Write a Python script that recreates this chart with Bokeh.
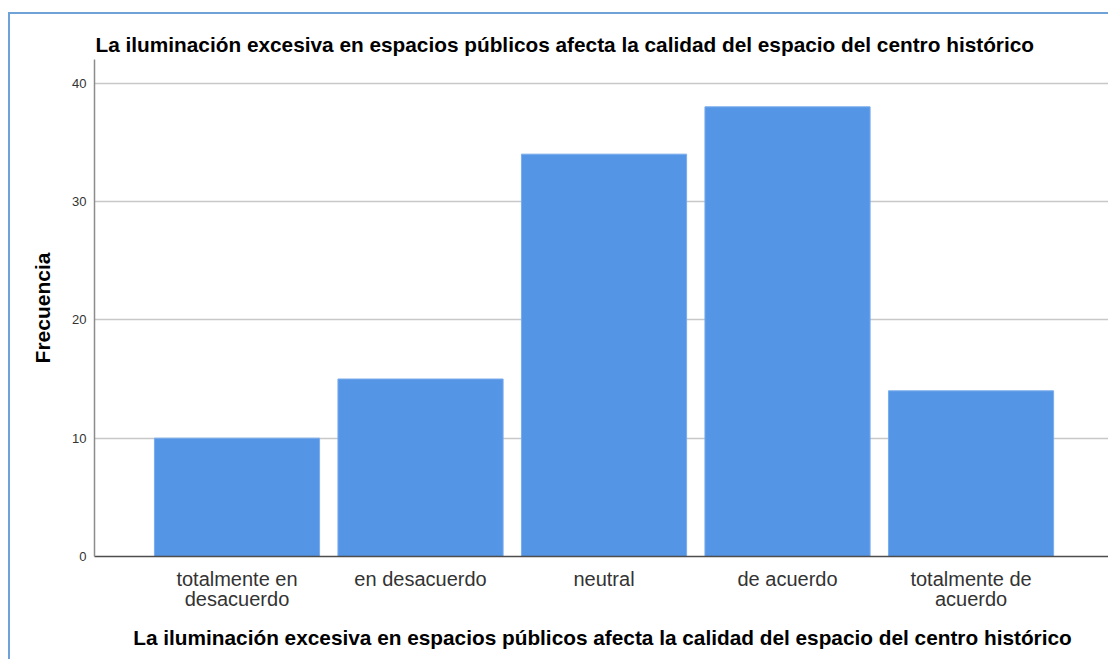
from bokeh.plotting import figure
from bokeh.models import FixedTicker, ColumnDataSource
from bokeh.embed import file_html
from bokeh.resources import INLINE

categories = ["totalmente en\ndesacuerdo", "en desacuerdo", "neutral", "de acuerdo", "totalmente de\nacuerdo"]
frecuencia = [10, 15, 34, 38, 14]
y_ticks = [0, 10, 20, 30, 40]
title_text = "La iluminación excesiva en espacios públicos afecta la calidad del espacio del centro histórico"

positions = list(range(1, len(categories) + 1))
source = ColumnDataSource(data=dict(x=positions, top=frecuencia, cat=categories))

FONT = "Liberation Sans"

p = figure(width=1100, height=647, x_range=(0.2234, 5.760), y_range=(0, 42),
           output_backend="svg", toolbar_location=None,
           min_border_left=84, min_border_right=0, min_border_top=45, min_border_bottom=105)

p.styles = {"border-top": "2px solid #6fa3d8", "border-left": "2px solid #6fa3d8",
            "margin-top": "12px", "margin-left": "8px"}

p.title.text = title_text
p.title.text_font = FONT
p.title.text_font_size = "20.8px"
p.title.text_font_style = "bold"
p.title.text_color = "#000000"
p.title.align = "left"
p.title.offset = 1
p.title.standoff = 8

p.vbar(x="x", top="top", width=0.9, source=source,
       fill_color="#5595e5", line_color="#7aaced", line_width=1)

p.outline_line_color = None
p.xgrid.grid_line_color = None
p.ygrid.grid_line_color = "#c8c8c8"
p.ygrid.grid_line_width = 1.5
p.ygrid.ticker = FixedTicker(ticks=y_ticks)

p.yaxis.ticker = FixedTicker(ticks=y_ticks)
p.yaxis.axis_line_color = "#8c8c8c"
p.yaxis.axis_line_width = 1.5
p.yaxis.major_tick_line_color = None
p.yaxis.major_tick_out = 0
p.yaxis.major_tick_in = 0
p.yaxis.minor_tick_line_color = None
p.yaxis.major_label_text_font = FONT
p.yaxis.major_label_text_font_size = "13px"
p.yaxis.major_label_text_color = "#333333"
p.yaxis.major_label_standoff = 8
p.yaxis.axis_label = "Frecuencia"
p.yaxis.axis_label_text_font = FONT
p.yaxis.axis_label_text_font_size = "21px"
p.yaxis.axis_label_text_font_style = "bold"
p.yaxis.axis_label_text_color = "#000000"
p.yaxis.axis_label_standoff = 15

p.xaxis.ticker = FixedTicker(ticks=positions)
p.xaxis.major_label_overrides = {pos: cat for pos, cat in zip(positions, categories)}
p.xaxis.axis_line_color = "#4d4d4d"
p.xaxis.axis_line_width = 1.5
p.xaxis.major_tick_line_color = None
p.xaxis.major_tick_out = 0
p.xaxis.major_tick_in = 0
p.xaxis.minor_tick_line_color = None
p.xaxis.major_label_text_font = FONT
p.xaxis.major_label_text_font_size = "20px"
p.xaxis.major_label_text_line_height = 0.95
p.xaxis.major_label_text_color = "#333333"
p.xaxis.major_label_standoff = 11
p.xaxis.axis_label = title_text
p.xaxis.axis_label_text_font = FONT
p.xaxis.axis_label_text_font_size = "20.8px"
p.xaxis.axis_label_text_font_style = "bold"
p.xaxis.axis_label_text_color = "#000000"
p.xaxis.axis_label_standoff = 13

open("out.html", "w").write(file_html(p, INLINE))
